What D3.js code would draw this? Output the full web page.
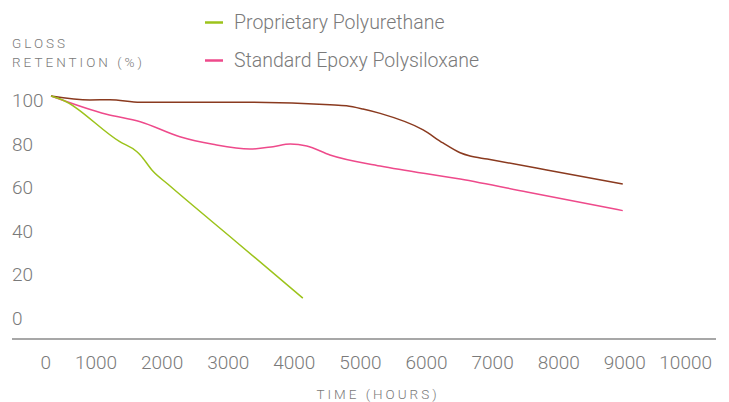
<!DOCTYPE html>
<html lang="en">
  <head>
    <meta charset="UTF-8" />
    <title>Gloss Retention vs Time</title>
    <script src="https://d3js.org/d3.v7.min.js"></script>
    <style>
      body {
        margin: 0;
        background: #fff;
      }
      svg text {
        font-family: Roboto, 'Helvetica Neue', Arial, sans-serif;
        font-weight: 300;
        fill: #7a7a7a;
      }
      .tick-label {
        font-size: 19px;
      }
      .legend-label {
        font-size: 19.5px;
      }
      .axis-title {
        font-size: 13.5px;
        letter-spacing: 3px;
      }
      .series {
        fill: none;
        stroke-width: 1.5;
      }
    </style>
  </head>
  <body>
    <div id="chart"></div>

    <script>
      // series: [hours, gloss retention %]
      const polyurethane = [
        [0, 100], [140, 98.6], [1040, 79.0], [1300, 74.4], [1350, 72.9],
        [1540, 65.5], [1770, 59.4], [2800, 33.0], [3810, 7.1],
      ];
      const epoxyPolysiloxane = [
        [0, 100], [840, 91.6], [1350, 88.2], [1950, 81.3], [2450, 77.8],
        [3010, 75.6], [3360, 76.7], [3620, 77.9], [3870, 77.0], [4220, 72.9],
        [4980, 67.8], [6190, 61.8], [7200, 55.9], [8650, 47.3],
      ];
      const thirdCoating = [
        [0, 100], [590, 98.2], [890, 98.3], [1350, 97.1], [1950, 97.1],
        [2960, 97.1], [4220, 96.0], [4470, 95.5], [4720, 94.0], [4980, 92.0],
        [5630, 84.4], [5930, 78.4], [6190, 73.9], [6340, 72.4], [6600, 71.0],
        [7500, 66.0], [8650, 59.5],
      ];

      const xTicks = [0, 1000, 2000, 3000, 4000, 5000, 6000, 7000, 8000, 9000, 10000];
      const yTicks = [0, 20, 40, 60, 80, 100];

      const series = [
        { name: 'Standard Epoxy Polysiloxane', values: epoxyPolysiloxane, color: '#ee4a8b' },
        { name: 'Other', values: thirdCoating, color: '#8a3a1f' },
        { name: 'Proprietary Polyurethane', values: polyurethane, color: '#9cc31b' },
      ];
      const legendOrder = ['Proprietary Polyurethane', 'Standard Epoxy Polysiloxane'];

      const width = 729,
        height = 402;

      const svg = d3
        .select('#chart')
        .append('svg')
        .attr('width', width)
        .attr('height', height);

      const x = d3.scaleLinear().domain([0, 10000]).range([51, 712]);
      const y = d3.scaleLinear().domain([0, 100]).range([313.5, 96]);

      // y labels (no axis line)
      svg
        .append('g')
        .selectAll('text')
        .data(yTicks)
        .join('text')
        .attr('class', 'tick-label')
        .attr('x', 12)
        .attr('y', (d) => y(d) + 11)
        .text((d) => d);

      // bottom rule
      svg
        .append('line')
        .attr('x1', 12)
        .attr('x2', 716)
        .attr('y1', 339)
        .attr('y2', 339)
        .attr('stroke', '#8a8a8a')
        .attr('stroke-width', 1.3);

      // x labels, right aligned on their tick
      svg
        .append('g')
        .selectAll('text')
        .data(xTicks)
        .join('text')
        .attr('class', 'tick-label')
        .attr('text-anchor', 'end')
        .attr('x', (d) => x(d))
        .attr('y', 369)
        .text((d) => d);

      // axis titles
      svg.append('text').attr('class', 'axis-title').attr('x', 12).attr('y', 48).text('GLOSS');
      svg.append('text').attr('class', 'axis-title').attr('x', 12).attr('y', 67).text('RETENTION (%)');
      svg
        .append('text')
        .attr('class', 'axis-title')
        .attr('text-anchor', 'middle')
        .attr('x', 378)
        .attr('y', 399)
        .text('TIME (HOURS)');

      // lines
      const line = d3
        .line()
        .x((d) => x(d[0]))
        .y((d) => y(d[1]))
        .curve(d3.curveMonotoneX);

      svg
        .selectAll('path.series')
        .data(series)
        .join('path')
        .attr('class', 'series')
        .attr('stroke', (d) => d.color)
        .attr('d', (d) => line(d.values));

      // legend
      const legend = svg
        .append('g')
        .selectAll('g')
        .data(legendOrder.map((n) => series.find((s) => s.name === n)))
        .join('g')
        .attr('transform', (d, i) => `translate(205,${22.5 + i * 38})`);
      legend
        .append('line')
        .attr('x1', 0)
        .attr('x2', 18)
        .attr('stroke', (d) => d.color)
        .attr('stroke-width', 2.5);
      legend
        .append('text')
        .attr('class', 'legend-label')
        .attr('x', 29)
        .attr('y', 6.5)
        .text((d) => d.name);
    </script>
  </body>
</html>
